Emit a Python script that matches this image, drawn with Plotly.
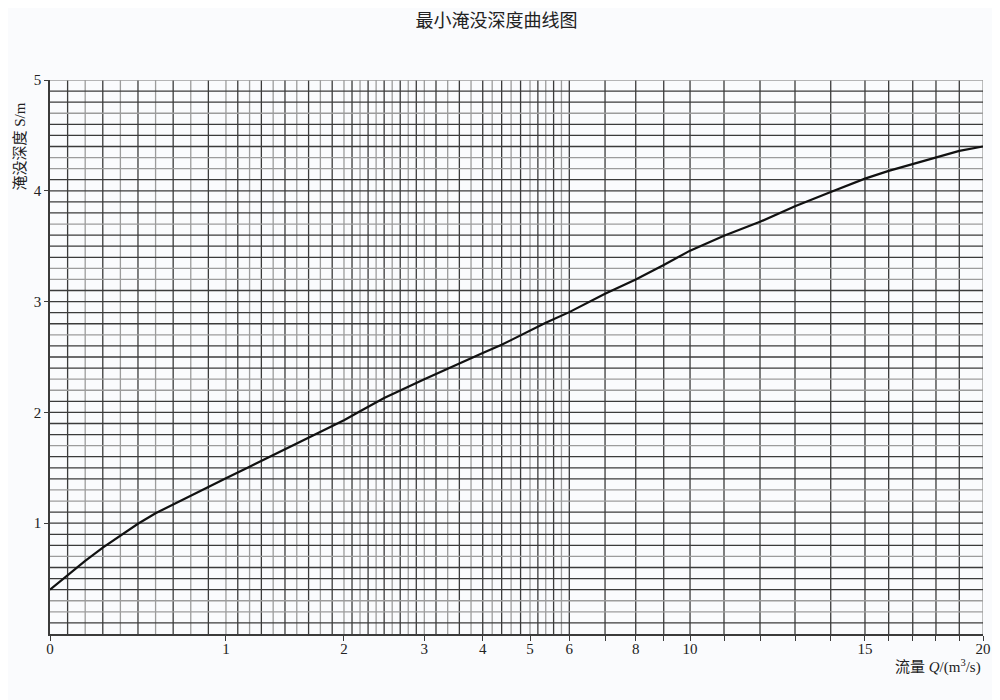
"""最小淹没深度曲线图 - minimum submergence depth vs discharge, on the
original's stretched piecewise Q scale (dense grid 0-6, coarse 6-20)."""

import numpy as np
import plotly.graph_objects as go

# piecewise x scale of the original sheet: Q value -> fraction of axis width
SCALE_Q = [0, 1, 2, 3, 4, 5, 6, 7, 8, 9, 10, 11, 12, 13, 14, 15, 16, 17, 18, 19, 20]
SCALE_POS = [0.0, 0.1886, 0.3151, 0.4012, 0.4638, 0.5145, 0.5566, 0.5949, 0.6278,
             0.6578, 0.6860, 0.7224, 0.7610, 0.7985, 0.8368, 0.8735, 0.8989,
             0.9247, 0.9496, 0.9746, 1.0]

# curve
Q_DATA = [0, 0.1, 0.2, 0.3, 0.4, 0.5, 0.6, 0.7, 0.8, 0.9, 1.0, 1.2, 1.4, 1.6,
          2.0, 2.2, 2.5, 3.0, 3.5, 4.0, 4.4, 5.0, 5.4, 6.0, 7, 8, 9, 10, 11,
          12, 13, 14, 15, 16, 17, 18, 19, 20]
S_DATA = [0.40, 0.53, 0.66, 0.78, 0.89, 0.995, 1.09, 1.17, 1.25, 1.33, 1.405,
          1.51, 1.615, 1.72, 1.93, 2.01, 2.13, 2.30, 2.42, 2.535, 2.61, 2.735,
          2.81, 2.905, 3.07, 3.20, 3.33, 3.46, 3.595, 3.72, 3.86, 3.99, 4.11,
          4.18, 4.24, 4.30, 4.36, 4.40]

X_TICKS = list(range(21))
X_TICK_TEXT = ["0", "1", "2", "3", "4", "5", "6", "", "8", "", "10", "", "", "",
               "", "15", "", "", "", "", "20"]
Y_TICKS = [1, 2, 3, 4, 5]

TITLE = "最小淹没深度曲线图"
Y_TITLE = "淹没深度 S/m"
X_TITLE = "流量 <i>Q</i>/(m<sup>3</sup>/s)"

DARK = "#3b3b3b"
GRAY = "#9c9c9c"
BG = "#fafbfd"
SERIF = "Liberation Serif, Noto Sans CJK SC, serif"

# the html page adds an 8px body margin, so the figure is drawn 8px smaller
W, H = 992, 692


def to_pos(q):
    return np.interp(q, SCALE_Q, SCALE_POS)


def grid_shapes():
    shapes = []
    # vertical lines: 0.1 steps to 3, 0.2 steps to 6, whole units to 20
    vq = list(np.round(np.arange(0.1, 3.0001, 0.1), 2))
    vq += list(np.round(np.arange(3.2, 6.0001, 0.2), 2))
    vq += list(range(7, 21))
    for i, q in enumerate(vq):
        if 6 <= q < 20:
            col = DARK
        elif q == 20:
            col = GRAY
        else:
            col = DARK if i % 2 == 0 else GRAY
        x = float(to_pos(q))
        shapes.append(dict(type="line", xref="x", yref="y", x0=x, x1=x, y0=0, y1=5,
                           line=dict(color=col, width=1.3), layer="below"))
    # horizontal lines every 0.1
    for k in range(1, 51):
        s = k / 10
        col = GRAY if k % 10 in (2, 3, 7) or k == 50 else DARK
        shapes.append(dict(type="line", xref="x", yref="y", x0=0, x1=1, y0=s, y1=s,
                           line=dict(color=col, width=1.3), layer="below"))
    return shapes


fig = go.Figure()
fig.add_trace(go.Scatter(
    x=to_pos(Q_DATA), y=S_DATA, mode="lines",
    line=dict(color="#111111", width=2.2),
    hoverinfo="skip", showlegend=False,
))

fig.update_layout(
    width=W, height=H,
    margin=dict(l=42, r=17, t=72, b=66),
    paper_bgcolor=BG, plot_bgcolor=BG,
    title=dict(text=TITLE, x=0.4925, y=1 - 13 / H, xanchor="center", yanchor="middle",
               font=dict(family="Noto Sans CJK SC", size=18, color="#222222")),
    shapes=grid_shapes(),
    xaxis=dict(range=[0, 1], showgrid=False, zeroline=False, automargin=False,
               tickvals=list(to_pos(X_TICKS)), ticktext=X_TICK_TEXT,
               ticks="outside", ticklen=5, tickwidth=1.3, tickcolor=DARK,
               ticklabelstandoff=-5,
               showline=True, linecolor=DARK, linewidth=1.6,
               tickfont=dict(family=SERIF, size=15, color="#222222")),
    yaxis=dict(range=[0, 5], showgrid=False, zeroline=False, automargin=False,
               tickvals=Y_TICKS, ticks="outside", ticklen=4, tickwidth=1.3, tickcolor=DARK,
               showline=True, linecolor=DARK, linewidth=1.6,
               tickfont=dict(family=SERIF, size=15, color="#222222")),
    annotations=[
        dict(text=Y_TITLE, xref="paper", yref="paper", x=-0.032, y=0.88,
             xanchor="center", yanchor="middle", textangle=-90, showarrow=False,
             font=dict(family=SERIF, size=15, color="#222222")),
        dict(text=X_TITLE, xref="paper", yref="paper", x=1.0, y=-0.058,
             xanchor="right", yanchor="middle", showarrow=False,
             font=dict(family=SERIF, size=15, color="#222222")),
    ],
)

fig.write_html("out.html")
